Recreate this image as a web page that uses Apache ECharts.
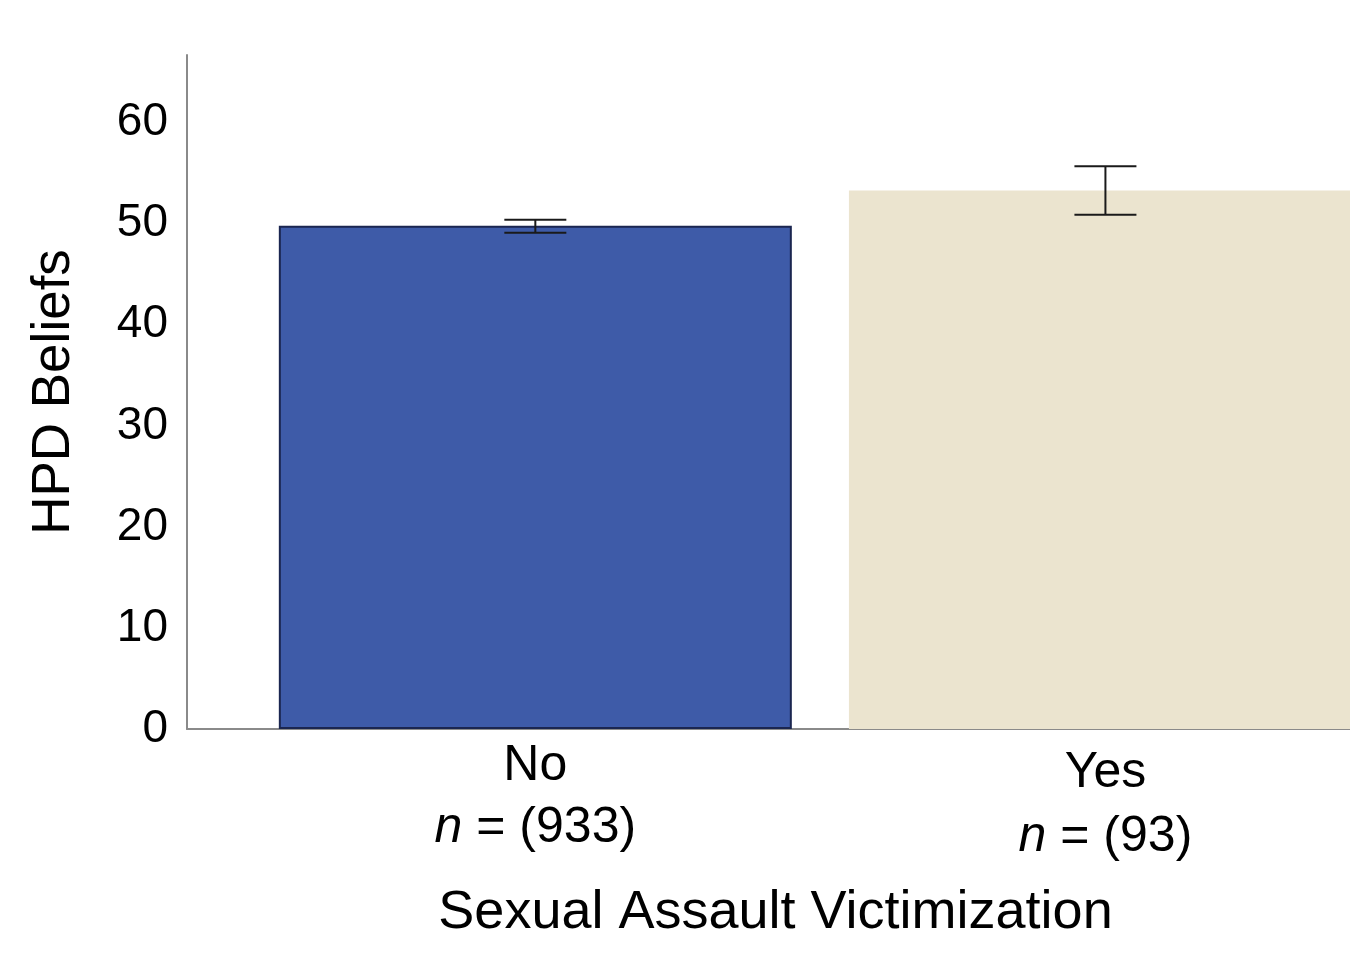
<!DOCTYPE html>
<html>
<head>
<meta charset="utf-8">
<title>HPD Beliefs by Sexual Assault Victimization</title>
<script src="https://cdn.jsdelivr.net/npm/echarts@6/dist/echarts.min.js"></script>
<style>
  html, body { margin: 0; padding: 0; background: #fff; }
  #chart { width: 1350px; height: 973px; }
</style>
</head>
<body>
<div id="chart"></div>
<script>
// chart values
const categories = ['No', 'Yes']
const sampleSizes = [933, 93]
const means = [49.8, 53.3]
const errLow = [49.1, 50.9]
const errHigh = [50.4, 55.7]
const barColors = ['#3e5ba8', '#ebe4cf']
const barBorders = ['#1b2650', 'transparent']

const chart = echarts.init(document.getElementById('chart'))

const font = '"Liberation Sans", Arial, Helvetica, sans-serif'

chart.setOption({
  animation: false,
  textStyle: { fontFamily: font },
  grid: {
    left: 187,
    right: 0,
    top: 55,
    bottom: 244
  },
  xAxis: {
    type: 'value',
    min: -0.611,
    max: 1.429,
    name: 'Sexual Assault Victimization',
    nameLocation: 'middle',
    nameGap: 157,
    nameTextStyle: { fontSize: 54, color: '#000', fontFamily: font, padding: [0, 0, 0, 14] },
    axisLine: { lineStyle: { color: '#8a8a8a', width: 2 } },
    axisTick: { show: false },
    splitLine: { show: false },
    axisLabel: {
      customValues: [0, 1],
      margin: 6,
      formatter: function (v) {
        const i = Math.round(v)
        const p = i === 0 ? 'a' : 'b'
        return '{' + p + 'c|' + categories[i] + '}\n{' + p + 'n|n}{' + p + 'v| = (' + sampleSizes[i] + ')}'
      },
      rich: {
        ac: { fontSize: 50, color: '#000', lineHeight: 62, fontFamily: font },
        an: { fontSize: 50, color: '#000', lineHeight: 62, fontStyle: 'italic', fontFamily: font },
        av: { fontSize: 50, color: '#000', lineHeight: 62, fontFamily: font },
        bc: { fontSize: 50, color: '#000', lineHeight: 62, padding: [14, 0, 0, 0], fontFamily: font },
        bn: { fontSize: 50, color: '#000', lineHeight: 62, padding: [18, 0, 0, 0], fontStyle: 'italic', fontFamily: font },
        bv: { fontSize: 50, color: '#000', lineHeight: 62, padding: [18, 0, 0, 0], fontFamily: font }
      }
    }
  },
  yAxis: {
    type: 'value',
    min: 0,
    max: 66.7,
    interval: 10,
    name: 'HPD Beliefs',
    nameLocation: 'middle',
    nameGap: 106,
    nameTextStyle: { fontSize: 53, color: '#000', fontFamily: font },
    axisLine: { show: true, onZero: false, lineStyle: { color: '#8a8a8a', width: 2 } },
    axisTick: { show: false },
    splitLine: { show: false },
    axisLabel: {
      showMaxLabel: false,
      margin: 19,
      fontSize: 46,
      color: '#000',
      fontFamily: font
    }
  },
  series: [
    {
      type: 'bar',
      barWidth: 513,
      data: means.map(function (v, i) {
        return {
          value: [i, v],
          itemStyle: { color: barColors[i], borderColor: barBorders[i], borderWidth: i === 0 ? 2 : 0 }
        }
      })
    },
    {
      type: 'custom',
      z: 5,
      data: categories.map(function (c, i) { return [i, errLow[i], errHigh[i]] }),
      renderItem: function (params, api) {
        const lo = api.coord([api.value(0), api.value(1)])
        const hi = api.coord([api.value(0), api.value(2)])
        const half = 31
        const style = { stroke: '#1a1a1a', lineWidth: 2 }
        return {
          type: 'group',
          children: [
            { type: 'line', shape: { x1: lo[0], y1: lo[1], x2: hi[0], y2: hi[1] }, style: style },
            { type: 'line', shape: { x1: hi[0] - half, y1: hi[1], x2: hi[0] + half, y2: hi[1] }, style: style },
            { type: 'line', shape: { x1: lo[0] - half, y1: lo[1], x2: lo[0] + half, y2: lo[1] }, style: style }
          ]
        }
      }
    }
  ]
})
</script>
</body>
</html>
